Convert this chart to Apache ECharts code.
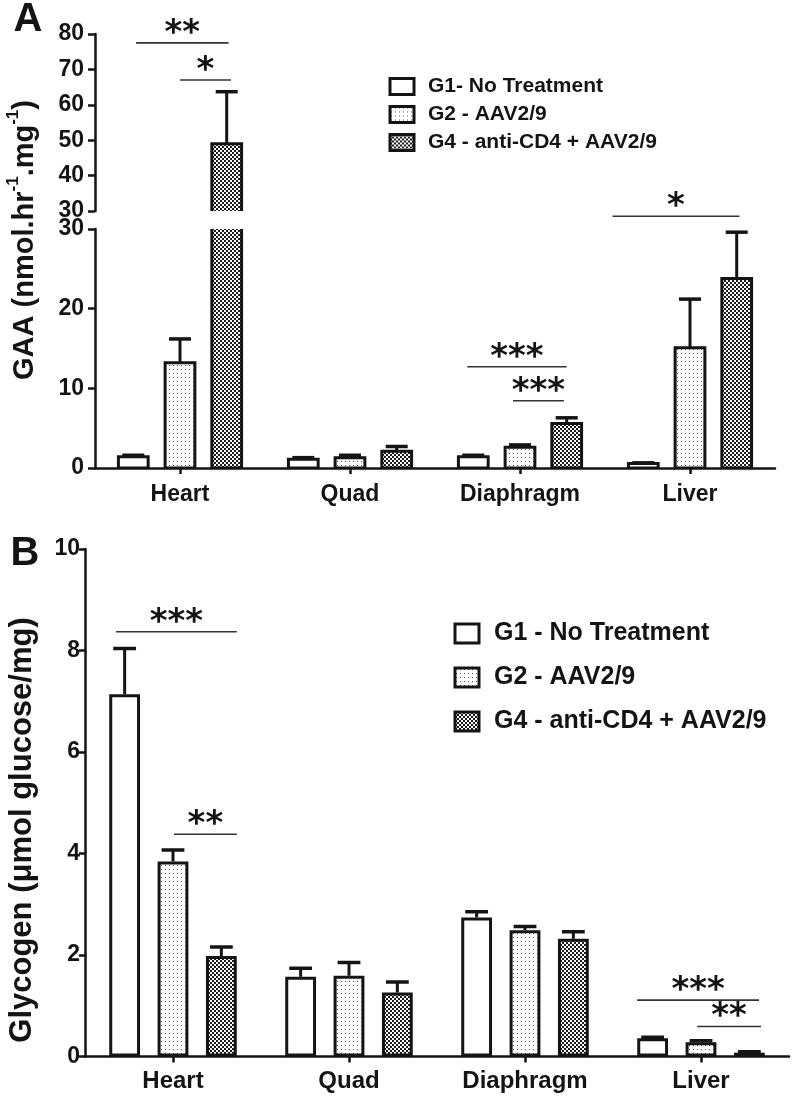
<!DOCTYPE html>
<html>
<head>
<meta charset="utf-8">
<script src="https://cdn.jsdelivr.net/npm/echarts@6/dist/echarts.min.js"></script>
<style>
html, body { margin: 0; padding: 0; background: #ffffff; }
#chart { width: 792px; height: 1096px; }
</style>
</head>
<body>
<div id="chart"></div>
<script>
// ---------------- data ----------------
const categories = ['Heart', 'Quad', 'Diaphragm', 'Liver'];
const groupNamesA = ['G1- No Treatment', 'G2 - AAV2/9', 'G4 - anti-CD4 + AAV2/9'];
const groupNamesB = ['G1 - No Treatment', 'G2 - AAV2/9', 'G4 - anti-CD4 + AAV2/9'];

// Panel A: GAA activity (mean and SEM)
const gaaG1 = [1.4, 1.1, 1.4, 0.55];
const gaaG1Err = [0.2, 0.2, 0.2, 0.1];
const gaaG2 = [13.2, 1.3, 2.6, 15.1];
const gaaG2Err = [3.0, 0.3, 0.3, 6.1];
const gaaG4 = [49.0, 2.1, 5.6, 23.8];
const gaaG4Err = [14.7, 0.6, 0.7, 5.8];

// broken axis of panel A: [min, max, interval]
const gaaUpperAxis = [30, 80, 10];
const gaaLowerAxis = [0, 30, 10];

// Panel B: glycogen (mean and SEM)
const glyG1 = [7.14, 1.57, 2.74, 0.36];
const glyG1Err = [0.90, 0.17, 0.11, 0.02];
const glyG2 = [3.84, 1.59, 2.49, 0.28];
const glyG2Err = [0.23, 0.26, 0.07, 0.03];
const glyG4 = [1.98, 1.26, 2.32, 0.075];
const glyG4Err = [0.18, 0.21, 0.14, 0.02];
const glyAxis = [0, 10, 2];

// significance bars: [category index, y value, from group position, to group position]
const sigAUpper = [[0, 77.5, 0.06, 2.04], [0, 67.0, 1.0, 2.09]];
const sigAUpperText = ['**', '*'];
const sigALower = [[2, 12.7, -0.13, 2.0], [2, 8.45, 0.85, 1.94], [3, 31.6, -0.66, 2.06]];
const sigALowerText = ['***', '***', '*'];
const sigB = [[0, 8.37, -0.18, 2.32], [0, 4.38, 1.02, 2.32], [3, 1.11, -0.32, 2.2], [3, 0.59, 0.92, 2.24]];
const sigBText = ['***', '**', '***', '**'];

// ---------------- styles ----------------
const FONT = '"Liberation Sans", Arial, Helvetica, sans-serif';
const STAR_FONT = 'bold 34px "DejaVu Sans", sans-serif';
const INK = '#141414';
const BAR_FRAC = 0.175;
const BAR_GAP = 0.57;

function makePattern(size, draw) {
  const c = document.createElement('canvas');
  c.width = size; c.height = size;
  const ctx = c.getContext('2d');
  ctx.fillStyle = '#ffffff';
  ctx.fillRect(0, 0, size, size);
  draw(ctx);
  return c;
}
const fillG1 = '#ffffff';
const fillG2 = { image: makePattern(4, ctx => { ctx.fillStyle = '#555555'; ctx.fillRect(1, 1, 1, 1); }), repeat: 'repeat' };
const fillG4 = { image: makePattern(4, ctx => { ctx.fillStyle = '#1c1c1c'; ctx.fillRect(0, 0, 2, 2); ctx.fillRect(2, 2, 2, 2); }), repeat: 'repeat' };
const fills = [fillG1, fillG2, fillG4];

// bar series (used where the axis is not broken)
function barSeries(name, data, fill, gi) {
  return {
    type: 'bar', name: name, data: data, xAxisIndex: gi, yAxisIndex: gi,
    barWidth: (BAR_FRAC * 100) + '%', barGap: (BAR_GAP * 100) + '%',
    silent: true,
    itemStyle: { color: fill, borderColor: INK, borderWidth: 3 },
    emphasis: { disabled: true }
  };
}

// bars drawn through the axis scales with true pixel clipping (for the broken axis)
function clippedBarSeries(name, data, slot, gi) {
  return {
    type: 'custom', name: name, xAxisIndex: gi, yAxisIndex: gi, clip: true, z: 2, silent: true,
    itemStyle: { color: fills[slot], borderColor: INK, borderWidth: 3 },
    data: data.map((v, i) => [i, v]),
    encode: { x: 0, y: 1 },
    renderItem: function (params, api) {
      const band = api.size([1, 0])[0];
      const bw = band * BAR_FRAC;
      const step = bw * (1 + BAR_GAP);
      const top = api.coord([api.value(0), api.value(1)]);
      const base = api.coord([api.value(0), 0]);
      const cs = params.coordSys;
      if (top[1] > cs.y + cs.height) return null;
      return {
        type: 'rect',
        shape: { x: top[0] + (slot - 1) * step - bw / 2, y: top[1], width: bw, height: base[1] - top[1] },
        style: { fill: fills[slot], stroke: INK, lineWidth: 3 }
      };
    }
  };
}

function errSeries(means, errs, slot, gi) {
  return {
    type: 'custom', xAxisIndex: gi, yAxisIndex: gi, clip: true, z: 3, silent: true,
    data: means.map((m, i) => [i, m, m + errs[i]]),
    encode: { x: 0, y: [1, 2] },
    renderItem: function (params, api) {
      const band = api.size([1, 0])[0];
      const bw = band * BAR_FRAC;
      const step = bw * (1 + BAR_GAP);
      const lo = api.coord([api.value(0), api.value(1)]);
      const hi = api.coord([api.value(0), api.value(2)]);
      const cs = params.coordSys;
      // error bar entirely outside this part of a broken axis
      if (hi[1] > cs.y + cs.height || lo[1] < cs.y) return null;
      const x = lo[0] + (slot - 1) * step;
      const hw = bw * 0.37;
      return {
        type: 'group', children: [
          { type: 'line', shape: { x1: x, y1: lo[1], x2: x, y2: hi[1] }, style: { stroke: INK, lineWidth: 3 } },
          { type: 'line', shape: { x1: x - hw, y1: hi[1], x2: x + hw, y2: hi[1] }, style: { stroke: INK, lineWidth: 3.5 } }
        ]
      };
    }
  };
}

function sigSeries(rows, texts, gi) {
  return {
    type: 'custom', xAxisIndex: gi, yAxisIndex: gi, clip: false, z: 4, silent: true,
    data: rows,
    encode: { x: 0, y: 1 },
    renderItem: function (params, api) {
      const band = api.size([1, 0])[0];
      const step = band * BAR_FRAC * (1 + BAR_GAP);
      const p = api.coord([api.value(0), api.value(1)]);
      const x1 = p[0] + (api.value(2) - 1) * step;
      const x2 = p[0] + (api.value(3) - 1) * step;
      return {
        type: 'group', children: [
          { type: 'line', shape: { x1: x1, y1: p[1], x2: x2, y2: p[1] }, style: { stroke: '#333333', lineWidth: 1.6 } },
          { type: 'text', style: { text: texts[params.dataIndex], x: (x1 + x2) / 2, y: p[1] - 9, align: 'center', verticalAlign: 'middle', font: STAR_FONT, fill: INK } }
        ]
      };
    }
  };
}

const lineStyle = { color: INK, width: 2.5 };
function yAxisDef(gi, range, tickLen, labelMargin, fontSize) {
  return {
    gridIndex: gi, type: 'value', min: range[0], max: range[1], interval: range[2],
    splitLine: { show: false },
    axisLine: { show: true, onZero: false, lineStyle: lineStyle },
    axisTick: { show: true, length: tickLen, lineStyle: lineStyle },
    axisLabel: { show: true, fontSize: fontSize, fontWeight: 'bold', fontFamily: FONT, color: INK, margin: labelMargin }
  };
}
function xAxisDef(gi, show, fontSize, margin) {
  return {
    gridIndex: gi, type: 'category', data: categories, show: show,
    axisLine: { show: true, onZero: false, lineStyle: lineStyle },
    axisTick: { show: true, alignWithLabel: true, length: 6, lineStyle: lineStyle },
    axisLabel: { show: true, fontSize: fontSize, fontWeight: 'bold', fontFamily: FONT, color: INK, margin: margin },
    splitLine: { show: false }
  };
}

const series = [];
// Panel A: upper part (grid 0) and lower part (grid 1) of the broken axis
[0, 1].forEach(gi => {
  series.push(clippedBarSeries(groupNamesA[0], gaaG1, 0, gi));
  series.push(clippedBarSeries(groupNamesA[1], gaaG2, 1, gi));
  series.push(clippedBarSeries(groupNamesA[2], gaaG4, 2, gi));
  series.push(errSeries(gaaG1, gaaG1Err, 0, gi));
  series.push(errSeries(gaaG2, gaaG2Err, 1, gi));
  series.push(errSeries(gaaG4, gaaG4Err, 2, gi));
});
series.push(sigSeries(sigAUpper, sigAUpperText, 0));
series.push(sigSeries(sigALower, sigALowerText, 1));
// Panel B
series.push(barSeries(groupNamesB[0], glyG1, fills[0], 2));
series.push(barSeries(groupNamesB[1], glyG2, fills[1], 2));
series.push(barSeries(groupNamesB[2], glyG4, fills[2], 2));
series.push(errSeries(glyG1, glyG1Err, 0, 2));
series.push(errSeries(glyG2, glyG2Err, 1, 2));
series.push(errSeries(glyG4, glyG4Err, 2, 2));
series.push(sigSeries(sigB, sigBText, 2));

const legendBase = {
  orient: 'vertical', icon: 'rect', selectedMode: false, padding: 0,
  itemStyle: { borderColor: INK, borderWidth: 3 }
};

const option = {
  animation: false,
  backgroundColor: '#ffffff',
  grid: [
    { left: 95, top: 34, width: 680, height: 177, outerBoundsMode: 'none' },
    { left: 95, top: 229, width: 680, height: 239, outerBoundsMode: 'none' },
    { left: 85, top: 549, width: 704, height: 507.5, outerBoundsMode: 'none' }
  ],
  xAxis: [xAxisDef(0, false, 23, 15), xAxisDef(1, true, 23, 15), xAxisDef(2, true, 24, 13)],
  yAxis: [yAxisDef(0, gaaUpperAxis, 7, 11, 23), yAxisDef(1, gaaLowerAxis, 7, 11, 23), yAxisDef(2, glyAxis, 6, 5, 23)],
  legend: [
    Object.assign({}, legendBase, {
      data: groupNamesA, left: 388.5, top: 76, itemWidth: 24, itemHeight: 16, itemGap: 7,
      textStyle: { fontSize: 21, fontWeight: 'bold', fontFamily: FONT, color: INK, padding: [0, 0, 0, 9] }
    }),
    Object.assign({}, legendBase, {
      data: groupNamesB, left: 453.5, top: 621, itemWidth: 24, itemHeight: 19, itemGap: 19,
      textStyle: { fontSize: 25, fontWeight: 'bold', fontFamily: FONT, color: INK, padding: [0, 0, 0, 10] }
    })
  ],
  graphic: [
    { type: 'text', x: 28, y: 20, style: { text: 'A', font: 'bold 40px ' + FONT, fill: INK, align: 'center', verticalAlign: 'middle' } },
    { type: 'text', x: 25, y: 554, style: { text: 'B', font: 'bold 40px ' + FONT, fill: INK, align: 'center', verticalAlign: 'middle' } },
    {
      type: 'text', x: 22, y: 240, rotation: Math.PI / 2,
      style: {
        text: '{a|GAA (nmol.hr}{s|-1}{a|.mg}{s|-1}{a|)}',
        align: 'center', verticalAlign: 'middle',
        rich: {
          a: { fontSize: 29, fontWeight: 'bold', fontFamily: FONT, fill: INK, lineHeight: 34, verticalAlign: 'bottom' },
          s: { fontSize: 17, fontWeight: 'bold', fontFamily: FONT, fill: INK, lineHeight: 17, verticalAlign: 'top' }
        }
      }
    },
    { type: 'text', x: 22, y: 830, rotation: Math.PI / 2, style: { text: 'Glycogen (\u03bcmol glucose/mg)', font: 'bold 31px ' + FONT, fill: INK, align: 'center', verticalAlign: 'middle' } }
  ],
  series: series
};

const chart = echarts.init(document.getElementById('chart'), null, { renderer: 'canvas', width: 792, height: 1096 });
chart.setOption(option);
</script>
</body>
</html>
